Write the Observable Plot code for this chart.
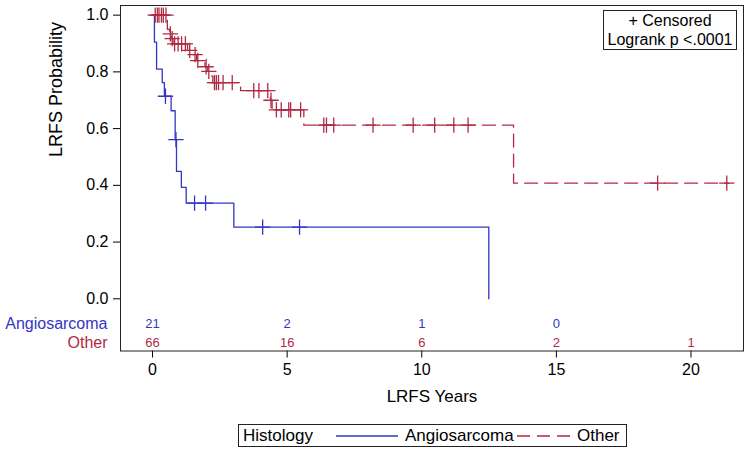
<!DOCTYPE html>
<html><head><meta charset="utf-8">
<script src="https://cdn.jsdelivr.net/npm/d3@7"></script>
<script src="https://cdn.jsdelivr.net/npm/@observablehq/plot@0.6"></script>
<style>
body{margin:0;background:#fff;font-family:"Liberation Sans",Arial,sans-serif;color:#000;}
#wrap{position:relative;width:750px;height:450px;}
#cens{position:absolute;left:603px;top:10px;width:132px;height:38px;border:1px solid #222;font-size:16px;line-height:19px;text-align:center;background:#fff;}
#legend{position:absolute;left:238px;top:424px;width:387px;height:21px;border:1px solid #222;font-size:17px;background:#fff;}
#legend span{position:absolute;top:0;line-height:21px;}
#legend svg{position:absolute;top:6px;}
</style>
</head><body>
<div id="wrap"><div id="chart"></div>
<div id="cens">+ Censored<br>Logrank p &lt;.0001</div>
<div id="legend">
<span style="left:4px">Histology</span>
<svg style="left:97px" width="62" height="10"><line x1="0" x2="62" y1="5" y2="5" stroke="#3434C8" stroke-width="1.4"/></svg>
<span style="left:166px">Angiosarcoma</span>
<svg style="left:278px" width="54" height="10"><line x1="0" x2="54" y1="5" y2="5" stroke="#B02A44" stroke-width="1.4" stroke-dasharray="13,7"/></svg>
<span style="left:338px">Other</span>
</div>
</div>
<script>
const blue = "#3434C8", red = "#B02A44";
const groups = ["Angiosarcoma", "Other"];
// Angiosarcoma KM steps
const angioTimes = [0, 0.07, 0.15, 0.36, 0.44, 0.69, 0.84, 0.89, 1.07, 1.25, 3.02, 12.49];
const angioSurv  = [1.0, 0.905, 0.810, 0.762, 0.714, 0.663, 0.561, 0.449, 0.393, 0.337, 0.2525, 0.0];
const angioCensor = [0.48, 0.87, 1.56, 1.97, 4.09, 5.46];
// Other KM steps
const otherTimes = [0, 0.55, 0.63, 0.70, 0.76, 1.30, 1.50, 1.64, 1.95, 2.05, 2.15, 2.24, 3.27, 4.38, 4.44, 5.62, 13.41, 21.4];
const otherSurv  = [1.0, 0.950, 0.934, 0.917, 0.899, 0.876, 0.861, 0.840, 0.818, 0.802, 0.785, 0.762, 0.734, 0.700, 0.666, 0.612, 0.408, 0.408];
const otherCensor = [0.1, 0.18, 0.24, 0.33, 0.4, 0.5, 0.66, 0.73, 0.82, 0.95, 1.08, 1.22, 1.38, 1.58, 1.68, 1.99, 2.09,
  2.3, 2.37, 2.45, 2.62, 2.96, 3.76, 3.95, 4.28, 4.40, 4.6, 4.78, 5.06, 5.13, 5.5,
  6.36, 6.46, 6.73, 8.19, 9.68, 10.48, 11.19, 11.72, 18.76, 21.33];
// At-risk table
const riskTimes = [0, 5, 10, 15, 20];
const angioRisk = [21, 2, 1, 0];
const otherRisk = [66, 16, 6, 2, 1];
const xTicks = [0, 5, 10, 15, 20];
const yTicks = [0, 0.2, 0.4, 0.6, 0.8, 1.0];

const steps = (T, S) => T.map((t, i) => ({t, s: S[i]}));
const survAt = (T, S, t) => { let v = S[0]; for (let i = 0; i < T.length; i++) if (T[i] <= t) v = S[i]; return v; };
const angioData = steps(angioTimes, angioSurv);
const otherData = steps(otherTimes, otherSurv);
const angioC = angioCensor.map(t => ({t, s: survAt(angioTimes, angioSurv, t)}));
const otherC = otherCensor.map(t => ({t, s: survAt(otherTimes, otherSurv, t)}));
const rowY = {Angiosarcoma: -0.088, Other: -0.154};
const riskRows = [
  ...angioRisk.map((n, i) => ({g: "Angiosarcoma", t: riskTimes[i], n})),
  ...otherRisk.map((n, i) => ({g: "Other", t: riskTimes[i], n}))
];
const colorOf = g => g === "Angiosarcoma" ? blue : red;

const chart = Plot.plot({
  width: 750, height: 420,
  marginLeft: 120, marginRight: 7, marginTop: 5, marginBottom: 69.5,
  style: {fontFamily: "Liberation Sans, Arial, sans-serif", fontSize: "16px", color: "#000", background: "#fff"},
  x: {domain: [-1.19, 21.95], ticks: xTicks, tickSize: 7, tickPadding: 6, label: null},
  y: {domain: [-0.184, 1.034], ticks: yTicks, tickFormat: d3.format(".1f"), tickSize: 7, tickPadding: 5, label: null},
  marks: [
    Plot.frame({stroke: "#222"}),
    Plot.line(angioData, {x: "t", y: "s", curve: "step-after", stroke: blue, strokeWidth: 1.3}),
    Plot.line(otherData, {x: "t", y: "s", curve: "step-after", stroke: red, strokeWidth: 1.3, strokeDasharray: "13,7"}),
    Plot.dot(angioC, {x: "t", y: "s", symbol: "plus", r: 5, stroke: blue, strokeWidth: 1.3}),
    Plot.dot(otherC, {x: "t", y: "s", symbol: "plus", r: 5, stroke: red, strokeWidth: 1.3}),
    Plot.text(riskRows, {x: "t", y: d => rowY[d.g], text: d => String(d.n), fill: d => colorOf(d.g), fontSize: 13}),
    Plot.text(groups, {y: g => rowY[g], text: d => d, frameAnchor: "left", dx: -13, textAnchor: "end", fill: colorOf, fontSize: 16}),
    Plot.text(["LRFS Probability"], {y: [0.5], text: d => d, frameAnchor: "left", dx: -64, rotate: -90, fontSize: 18}),
    Plot.text(["LRFS Years"], {text: d => d, frameAnchor: "bottom", dy: 50.5, fontSize: 17})
  ]
});
document.getElementById("chart").appendChild(chart);
</script>
</body></html>
